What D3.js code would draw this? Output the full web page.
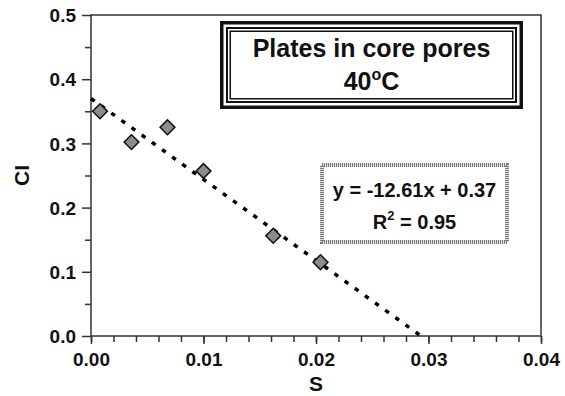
<!DOCTYPE html>
<html>
<head>
<meta charset="utf-8">
<script src="https://cdn.jsdelivr.net/npm/d3@7"></script>
<style>
    body { margin: 0; background: #fff; }
    svg text { font-family: Arial, "Liberation Sans", sans-serif; font-weight: bold; fill: #111; }
</style>
</head>
<body>
<div id="chart"></div>
<script>
// measured points
var sValues = [0.0008, 0.0036, 0.0068, 0.0100, 0.0162, 0.0204];
var ciValues = [0.350, 0.302, 0.325, 0.257, 0.156, 0.115];

// fitted line
var slope = -12.61;
var intercept = 0.37;

var xTicks = [0, 0.01, 0.02, 0.03, 0.04];
var yTicks = [0, 0.1, 0.2, 0.3, 0.4, 0.5];
var titleLines = ["Plates in core pores", "40"];
var eqLines = ["y = -12.61x + 0.37", "R", " = 0.95"];

var width = 565, height = 396;

var svg = d3.select("#chart")
    .append("svg")
    .attr("width", width)
    .attr("height", height);

var x = d3.scaleLinear().domain([0, 0.04]).range([91, 541]);
var y = d3.scaleLinear().domain([0, 0.5]).range([336, 15]);

// minor ticks first
var xMinor = d3.range(0, 0.0401, 0.002);
var yMinor = d3.range(0.05, 0.5, 0.1);

svg.append("g")
    .attr("transform", "translate(0,336)")
    .call(d3.axisBottom(x).tickValues(xMinor).tickSize(6).tickFormat(""))
    .call(g => g.select(".domain").remove())
    .selectAll("line").attr("stroke", "#333").attr("stroke-width", 1.5);

svg.append("g")
    .attr("transform", "translate(91,0)")
    .call(d3.axisLeft(y).tickValues(yMinor).tickSize(6).tickFormat(""))
    .call(g => g.select(".domain").remove())
    .selectAll("line").attr("stroke", "#333").attr("stroke-width", 1.5);

// major ticks + labels
var gx = svg.append("g")
    .attr("transform", "translate(0,336)")
    .call(d3.axisBottom(x).tickValues(xTicks).tickSize(8).tickPadding(9).tickFormat(d3.format(".2f")));
gx.select(".domain").remove();
gx.selectAll("line").attr("stroke", "#333").attr("stroke-width", 1.5);
gx.selectAll("text").style("font-size", "19px").attr("fill", "#111");

var gy = svg.append("g")
    .attr("transform", "translate(91,0)")
    .call(d3.axisLeft(y).tickValues(yTicks).tickSize(9).tickPadding(6).tickFormat(d3.format(".1f")));
gy.select(".domain").remove();
gy.selectAll("line").attr("stroke", "#333").attr("stroke-width", 1.5);
gy.selectAll("text").style("font-size", "19px").attr("fill", "#111").attr("dy", "0.35em");

// frame
svg.append("rect")
    .attr("x", x(0)).attr("y", y(0.5))
    .attr("width", x(0.04) - x(0))
    .attr("height", y(0) - y(0.5))
    .attr("fill", "none")
    .attr("stroke", "#333")
    .attr("stroke-width", 1.5);

// axis titles
svg.append("text")
    .attr("x", x(0.02)).attr("y", 391)
    .attr("text-anchor", "middle")
    .style("font-size", "21px")
    .text("S");

svg.append("text")
    .attr("transform", "translate(29," + y(0.25) + ") rotate(-90)")
    .attr("text-anchor", "middle")
    .style("font-size", "21px")
    .text("CI");

// regression line, from S = 0 to where CI hits 0
var xEnd = -intercept / slope;
svg.append("line")
    .attr("x1", x(0)).attr("y1", y(intercept))
    .attr("x2", x(xEnd)).attr("y2", y(slope * xEnd + intercept))
    .attr("stroke", "#000")
    .attr("stroke-width", 3.5)
    .attr("stroke-dasharray", "4.5 8");

// diamonds
var pts = sValues.map((s, i) => ({ s: s, ci: ciValues[i] }));
svg.append("g").selectAll("path")
    .data(pts)
    .enter()
    .append("path")
    .attr("d", d3.symbol().type(d3.symbolSquare).size(110))
    .attr("transform", d => "translate(" + x(d.s) + "," + y(d.ci) + ") rotate(45)")
    .attr("fill", "#8c8c8c")
    .attr("stroke", "#111")
    .attr("stroke-width", 1.5);

// title box with triple border
var tb = { x: 220, y: 21, w: 303, h: 88 };
var borders = [[1.75, 3.5], [7, 2], [10.25, 1.5]];
borders.forEach(function(b) {
    svg.append("rect")
        .attr("x", tb.x + b[0]).attr("y", tb.y + b[0])
        .attr("width", tb.w - 2 * b[0]).attr("height", tb.h - 2 * b[0])
        .attr("fill", b[0] > 10 ? "#fff" : "none")
        .attr("stroke", "#111")
        .attr("stroke-width", b[1]);
});
svg.append("text")
    .attr("x", tb.x + tb.w / 2).attr("y", 57)
    .attr("text-anchor", "middle")
    .style("font-size", "25px")
    .text(titleLines[0]);
var t2 = svg.append("text")
    .attr("x", tb.x + tb.w / 2).attr("y", 90)
    .attr("text-anchor", "middle")
    .style("font-size", "25px");
t2.append("tspan").text(titleLines[1]);
t2.append("tspan").attr("dy", -10).style("font-size", "16px").text("o");
t2.append("tspan").attr("dy", 10).text("C");

// equation box
var eb = { x: 320, y: 163, w: 189, h: 81 };
svg.append("rect")
    .attr("x", eb.x + 2).attr("y", eb.y + 2)
    .attr("width", eb.w - 4).attr("height", eb.h - 4)
    .attr("fill", "#fff")
    .attr("stroke", "#7a7a7a")
    .attr("stroke-width", 4)
    .attr("stroke-dasharray", "1.2 0.8");
svg.append("text")
    .attr("x", eb.x + eb.w / 2).attr("y", 197)
    .attr("text-anchor", "middle")
    .style("font-size", "20px")
    .text(eqLines[0]);
var e2 = svg.append("text")
    .attr("x", eb.x + eb.w / 2).attr("y", 229)
    .attr("text-anchor", "middle")
    .style("font-size", "20px");
e2.append("tspan").text(eqLines[1]);
e2.append("tspan").attr("dy", -9).style("font-size", "13px").text("2");
e2.append("tspan").attr("dy", 9).text(eqLines[2]);
</script>
</body>
</html>
